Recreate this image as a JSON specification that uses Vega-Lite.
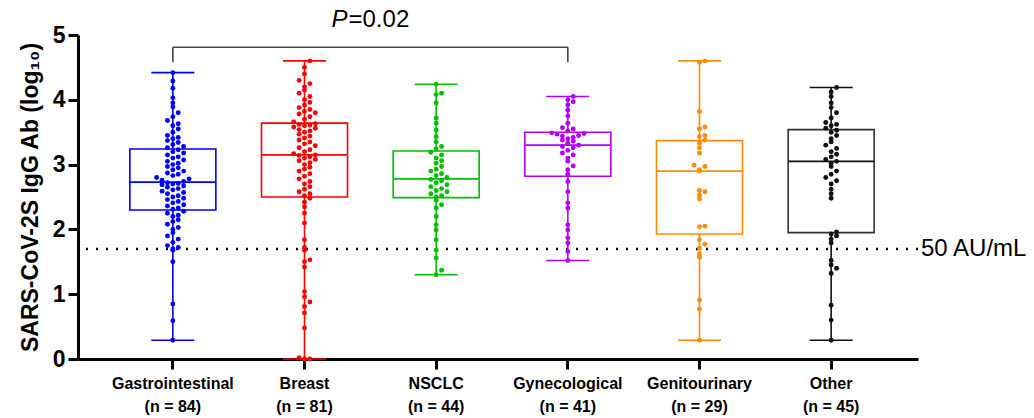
{
  "$schema": "https://vega.github.io/schema/vega-lite/v6.json",
  "width": 840,
  "height": 324,
  "autosize": {"type": "none"},
  "padding": {"left": 78, "top": 35, "right": 116, "bottom": 59},
  "background": "white",
  "config": {
    "view": {"stroke": null},
    "font": "Liberation Sans",
    "axisX": {
      "title": null,
      "domainColor": "black", "domainWidth": 3,
      "tickColor": "black", "tickWidth": 3, "tickSize": 10,
      "labelFont": "Liberation Sans", "labelFontWeight": "bold", "labelFontSize": 16, "labelColor": "black",
      "labelAngle": 0, "labelPadding": 6, "labelLineHeight": 23, "labelBaseline": "top",
      "labelExpr": "[datum.label, {'Gastrointestinal':'(n = 84)','Breast':'(n = 81)','NSCLC':'(n = 44)','Gynecological':'(n = 41)','Genitourinary':'(n = 29)','Other':'(n = 45)'}[datum.label]]",
      "grid": false
    },
    "axisY": {
      "domainColor": "black", "domainWidth": 3,
      "tickColor": "black", "tickWidth": 3, "tickSize": 10,
      "labelFont": "Liberation Sans", "labelFontWeight": "bold", "labelFontSize": 23, "labelColor": "black", "labelPadding": 3,
      "titleFont": "Liberation Sans", "titleFontWeight": "bold", "titleFontSize": 23, "titleColor": "black", "titlePadding": 10,
      "grid": false
    }
  },
  "datasets": {
    "box": [
      {"g": "Gastrointestinal", "lo": 0.29, "q1": 2.30, "med": 2.73, "q3": 3.24, "hi": 4.42},
      {"g": "Breast", "lo": 0.0, "q1": 2.50, "med": 3.15, "q3": 3.64, "hi": 4.60},
      {"g": "NSCLC", "lo": 1.30, "q1": 2.49, "med": 2.78, "q3": 3.21, "hi": 4.24},
      {"g": "Gynecological", "lo": 1.52, "q1": 2.82, "med": 3.30, "q3": 3.50, "hi": 4.05},
      {"g": "Genitourinary", "lo": 0.29, "q1": 1.93, "med": 2.90, "q3": 3.37, "hi": 4.60},
      {"g": "Other", "lo": 0.29, "q1": 1.95, "med": 3.05, "q3": 3.54, "hi": 4.19}
    ],
    "pts": [
      {"g":"Gastrointestinal","v":0.29},{"g":"Gastrointestinal","v":0.59},{"g":"Gastrointestinal","v":0.85},{"g":"Gastrointestinal","v":1.50},{"g":"Gastrointestinal","v":1.68},{"g":"Gastrointestinal","v":1.70},{"g":"Gastrointestinal","v":1.72},{"g":"Gastrointestinal","v":1.75},{"g":"Gastrointestinal","v":1.80},{"g":"Gastrointestinal","v":1.85},{"g":"Gastrointestinal","v":1.90},{"g":"Gastrointestinal","v":1.95},{"g":"Gastrointestinal","v":2.00},{"g":"Gastrointestinal","v":2.03},{"g":"Gastrointestinal","v":2.08},{"g":"Gastrointestinal","v":2.12},{"g":"Gastrointestinal","v":2.15},{"g":"Gastrointestinal","v":2.20},{"g":"Gastrointestinal","v":2.22},{"g":"Gastrointestinal","v":2.25},{"g":"Gastrointestinal","v":2.28},
      {"g":"Gastrointestinal","v":2.31},{"g":"Gastrointestinal","v":2.33},{"g":"Gastrointestinal","v":2.36},{"g":"Gastrointestinal","v":2.38},{"g":"Gastrointestinal","v":2.41},{"g":"Gastrointestinal","v":2.43},{"g":"Gastrointestinal","v":2.46},{"g":"Gastrointestinal","v":2.48},{"g":"Gastrointestinal","v":2.50},{"g":"Gastrointestinal","v":2.52},{"g":"Gastrointestinal","v":2.55},{"g":"Gastrointestinal","v":2.57},{"g":"Gastrointestinal","v":2.59},{"g":"Gastrointestinal","v":2.61},{"g":"Gastrointestinal","v":2.63},{"g":"Gastrointestinal","v":2.65},{"g":"Gastrointestinal","v":2.67},{"g":"Gastrointestinal","v":2.69},{"g":"Gastrointestinal","v":2.70},{"g":"Gastrointestinal","v":2.71},{"g":"Gastrointestinal","v":2.72},
      {"g":"Gastrointestinal","v":2.74},{"g":"Gastrointestinal","v":2.76},{"g":"Gastrointestinal","v":2.78},{"g":"Gastrointestinal","v":2.80},{"g":"Gastrointestinal","v":2.83},{"g":"Gastrointestinal","v":2.85},{"g":"Gastrointestinal","v":2.87},{"g":"Gastrointestinal","v":2.90},{"g":"Gastrointestinal","v":2.92},{"g":"Gastrointestinal","v":2.95},{"g":"Gastrointestinal","v":2.97},{"g":"Gastrointestinal","v":3.00},{"g":"Gastrointestinal","v":3.02},{"g":"Gastrointestinal","v":3.05},{"g":"Gastrointestinal","v":3.07},{"g":"Gastrointestinal","v":3.10},{"g":"Gastrointestinal","v":3.12},{"g":"Gastrointestinal","v":3.15},{"g":"Gastrointestinal","v":3.18},{"g":"Gastrointestinal","v":3.20},{"g":"Gastrointestinal","v":3.23},
      {"g":"Gastrointestinal","v":3.26},{"g":"Gastrointestinal","v":3.28},{"g":"Gastrointestinal","v":3.31},{"g":"Gastrointestinal","v":3.34},{"g":"Gastrointestinal","v":3.37},{"g":"Gastrointestinal","v":3.40},{"g":"Gastrointestinal","v":3.42},{"g":"Gastrointestinal","v":3.45},{"g":"Gastrointestinal","v":3.50},{"g":"Gastrointestinal","v":3.55},{"g":"Gastrointestinal","v":3.60},{"g":"Gastrointestinal","v":3.63},{"g":"Gastrointestinal","v":3.68},{"g":"Gastrointestinal","v":3.74},{"g":"Gastrointestinal","v":3.80},{"g":"Gastrointestinal","v":3.89},{"g":"Gastrointestinal","v":3.95},{"g":"Gastrointestinal","v":4.03},{"g":"Gastrointestinal","v":4.18},{"g":"Gastrointestinal","v":4.29},{"g":"Gastrointestinal","v":4.42},
      {"g":"Breast","v":0.0},{"g":"Breast","v":0.0},{"g":"Breast","v":0.02},{"g":"Breast","v":0.48},{"g":"Breast","v":0.71},{"g":"Breast","v":0.81},{"g":"Breast","v":0.88},{"g":"Breast","v":0.96},{"g":"Breast","v":1.04},{"g":"Breast","v":1.42},{"g":"Breast","v":1.50},{"g":"Breast","v":1.53},{"g":"Breast","v":1.68},{"g":"Breast","v":1.72},{"g":"Breast","v":1.84},{"g":"Breast","v":2.10},{"g":"Breast","v":2.25},{"g":"Breast","v":2.35},{"g":"Breast","v":2.42},{"g":"Breast","v":2.48},
      {"g":"Breast","v":2.52},{"g":"Breast","v":2.55},{"g":"Breast","v":2.58},{"g":"Breast","v":2.62},{"g":"Breast","v":2.66},{"g":"Breast","v":2.70},{"g":"Breast","v":2.74},{"g":"Breast","v":2.78},{"g":"Breast","v":2.82},{"g":"Breast","v":2.86},{"g":"Breast","v":2.90},{"g":"Breast","v":2.93},{"g":"Breast","v":2.96},{"g":"Breast","v":3.00},{"g":"Breast","v":3.03},{"g":"Breast","v":3.06},{"g":"Breast","v":3.08},{"g":"Breast","v":3.10},{"g":"Breast","v":3.12},{"g":"Breast","v":3.14},{"g":"Breast","v":3.15},
      {"g":"Breast","v":3.17},{"g":"Breast","v":3.20},{"g":"Breast","v":3.23},{"g":"Breast","v":3.26},{"g":"Breast","v":3.29},{"g":"Breast","v":3.32},{"g":"Breast","v":3.35},{"g":"Breast","v":3.38},{"g":"Breast","v":3.41},{"g":"Breast","v":3.44},{"g":"Breast","v":3.47},{"g":"Breast","v":3.50},{"g":"Breast","v":3.52},{"g":"Breast","v":3.54},{"g":"Breast","v":3.56},{"g":"Breast","v":3.58},{"g":"Breast","v":3.60},{"g":"Breast","v":3.61},{"g":"Breast","v":3.62},{"g":"Breast","v":3.63},
      {"g":"Breast","v":3.66},{"g":"Breast","v":3.70},{"g":"Breast","v":3.74},{"g":"Breast","v":3.78},{"g":"Breast","v":3.80},{"g":"Breast","v":3.82},{"g":"Breast","v":3.85},{"g":"Breast","v":3.88},{"g":"Breast","v":3.92},{"g":"Breast","v":3.96},{"g":"Breast","v":4.00},{"g":"Breast","v":4.05},{"g":"Breast","v":4.10},{"g":"Breast","v":4.15},{"g":"Breast","v":4.20},{"g":"Breast","v":4.25},{"g":"Breast","v":4.30},{"g":"Breast","v":4.40},{"g":"Breast","v":4.50},{"g":"Breast","v":4.60},
      {"g":"NSCLC","v":1.30},{"g":"NSCLC","v":1.37},{"g":"NSCLC","v":1.56},{"g":"NSCLC","v":1.68},{"g":"NSCLC","v":1.84},{"g":"NSCLC","v":1.99},{"g":"NSCLC","v":2.07},{"g":"NSCLC","v":2.20},{"g":"NSCLC","v":2.33},{"g":"NSCLC","v":2.38},{"g":"NSCLC","v":2.45},
      {"g":"NSCLC","v":2.50},{"g":"NSCLC","v":2.52},{"g":"NSCLC","v":2.55},{"g":"NSCLC","v":2.58},{"g":"NSCLC","v":2.60},{"g":"NSCLC","v":2.63},{"g":"NSCLC","v":2.66},{"g":"NSCLC","v":2.69},{"g":"NSCLC","v":2.72},{"g":"NSCLC","v":2.75},{"g":"NSCLC","v":2.77},
      {"g":"NSCLC","v":2.80},{"g":"NSCLC","v":2.83},{"g":"NSCLC","v":2.86},{"g":"NSCLC","v":2.90},{"g":"NSCLC","v":2.93},{"g":"NSCLC","v":2.97},{"g":"NSCLC","v":3.02},{"g":"NSCLC","v":3.06},{"g":"NSCLC","v":3.10},{"g":"NSCLC","v":3.15},{"g":"NSCLC","v":3.19},
      {"g":"NSCLC","v":3.24},{"g":"NSCLC","v":3.28},{"g":"NSCLC","v":3.35},{"g":"NSCLC","v":3.43},{"g":"NSCLC","v":3.53},{"g":"NSCLC","v":3.64},{"g":"NSCLC","v":3.72},{"g":"NSCLC","v":3.95},{"g":"NSCLC","v":4.08},{"g":"NSCLC","v":4.10},{"g":"NSCLC","v":4.24},
      {"g":"Gynecological","v":1.52},{"g":"Gynecological","v":1.66},{"g":"Gynecological","v":1.79},{"g":"Gynecological","v":1.87},{"g":"Gynecological","v":1.99},{"g":"Gynecological","v":2.07},{"g":"Gynecological","v":2.33},{"g":"Gynecological","v":2.41},{"g":"Gynecological","v":2.58},{"g":"Gynecological","v":2.74},
      {"g":"Gynecological","v":2.85},{"g":"Gynecological","v":2.92},{"g":"Gynecological","v":2.98},{"g":"Gynecological","v":3.05},{"g":"Gynecological","v":3.10},{"g":"Gynecological","v":3.15},{"g":"Gynecological","v":3.18},{"g":"Gynecological","v":3.22},{"g":"Gynecological","v":3.26},{"g":"Gynecological","v":3.28},{"g":"Gynecological","v":3.30},
      {"g":"Gynecological","v":3.33},{"g":"Gynecological","v":3.36},{"g":"Gynecological","v":3.38},{"g":"Gynecological","v":3.40},{"g":"Gynecological","v":3.42},{"g":"Gynecological","v":3.44},{"g":"Gynecological","v":3.45},{"g":"Gynecological","v":3.47},{"g":"Gynecological","v":3.48},{"g":"Gynecological","v":3.49},
      {"g":"Gynecological","v":3.52},{"g":"Gynecological","v":3.55},{"g":"Gynecological","v":3.57},{"g":"Gynecological","v":3.64},{"g":"Gynecological","v":3.75},{"g":"Gynecological","v":3.84},{"g":"Gynecological","v":3.92},{"g":"Gynecological","v":3.97},{"g":"Gynecological","v":4.00},{"g":"Gynecological","v":4.05},
      {"g":"Genitourinary","v":0.29},{"g":"Genitourinary","v":0.77},{"g":"Genitourinary","v":0.91},{"g":"Genitourinary","v":1.57},{"g":"Genitourinary","v":1.62},{"g":"Genitourinary","v":1.71},{"g":"Genitourinary","v":1.77},{"g":"Genitourinary","v":1.84},{"g":"Genitourinary","v":2.04},{"g":"Genitourinary","v":2.05},{"g":"Genitourinary","v":2.47},{"g":"Genitourinary","v":2.53},{"g":"Genitourinary","v":2.58},{"g":"Genitourinary","v":2.60},{"g":"Genitourinary","v":2.90},{"g":"Genitourinary","v":2.92},{"g":"Genitourinary","v":2.97},{"g":"Genitourinary","v":2.99},{"g":"Genitourinary","v":3.18},{"g":"Genitourinary","v":3.26},{"g":"Genitourinary","v":3.33},{"g":"Genitourinary","v":3.38},{"g":"Genitourinary","v":3.43},{"g":"Genitourinary","v":3.45},{"g":"Genitourinary","v":3.55},{"g":"Genitourinary","v":3.58},{"g":"Genitourinary","v":3.82},{"g":"Genitourinary","v":4.58},{"g":"Genitourinary","v":4.60},
      {"g":"Other","v":0.29},{"g":"Other","v":0.60},{"g":"Other","v":0.83},{"g":"Other","v":1.32},{"g":"Other","v":1.40},{"g":"Other","v":1.45},{"g":"Other","v":1.52},{"g":"Other","v":1.79},{"g":"Other","v":1.85},{"g":"Other","v":1.90},{"g":"Other","v":1.93},
      {"g":"Other","v":1.96},{"g":"Other","v":2.48},{"g":"Other","v":2.55},{"g":"Other","v":2.62},{"g":"Other","v":2.70},{"g":"Other","v":2.75},{"g":"Other","v":2.80},{"g":"Other","v":2.85},{"g":"Other","v":2.90},{"g":"Other","v":2.97},{"g":"Other","v":3.02},{"g":"Other","v":3.05},
      {"g":"Other","v":3.08},{"g":"Other","v":3.12},{"g":"Other","v":3.16},{"g":"Other","v":3.20},{"g":"Other","v":3.25},{"g":"Other","v":3.30},{"g":"Other","v":3.35},{"g":"Other","v":3.40},{"g":"Other","v":3.45},{"g":"Other","v":3.50},{"g":"Other","v":3.53},
      {"g":"Other","v":3.56},{"g":"Other","v":3.60},{"g":"Other","v":3.62},{"g":"Other","v":3.65},{"g":"Other","v":3.72},{"g":"Other","v":3.80},{"g":"Other","v":3.88},{"g":"Other","v":3.95},{"g":"Other","v":4.05},{"g":"Other","v":4.12},{"g":"Other","v":4.19}
    ]
  },
  "layer": [
    {
      "data": {"values": [{}]},
      "mark": {"type": "rule", "strokeDash": [2, 8], "strokeWidth": 2.5, "color": "black"},
      "encoding": {"y": {"datum": 1.699, "type": "quantitative", "scale": {"domain": [0, 5], "nice": false}, "axis": {"values": [0,1,2,3,4,5], "format": "d", "title": "SARS-CoV-2S IgG Ab (log₁₀)"}}}
    },
    {
      "data": {"name": "box"},
      "mark": {"type": "rule", "strokeWidth": 1.6},
      "encoding": {
        "x": {"field": "g", "type": "nominal", "scale": {"domain": ["Gastrointestinal","Breast","NSCLC","Gynecological","Genitourinary","Other"], "paddingInner": 0, "paddingOuter": 0.19, "align": 0.58}},
        "y": {"field": "lo", "type": "quantitative"},
        "y2": {"field": "hi"},
        "color": {"field": "g", "type": "nominal", "legend": null, "scale": {"domain": ["Gastrointestinal","Breast","NSCLC","Gynecological","Genitourinary","Other"], "range": ["#0000ff","#ff0000","#00c000","#b400ff","#ff8c00","#111111"]}}
      }
    },
    {
      "data": {"name": "box"},
      "mark": {"type": "bar", "size": 86, "fill": "white", "strokeWidth": 1.6},
      "encoding": {
        "x": {"field": "g", "type": "nominal"},
        "y": {"field": "q1", "type": "quantitative"},
        "y2": {"field": "q3"},
        "stroke": {"field": "g", "type": "nominal", "legend": null, "scale": {"domain": ["Gastrointestinal","Breast","NSCLC","Gynecological","Genitourinary","Other"], "range": ["#0000ff","#ff0000","#00c000","#b400ff","#ff8c00","#333333"]}}
      }
    },
    {
      "data": {"name": "box"},
      "mark": {"type": "tick", "size": 86, "thickness": 1.6, "opacity": 1},
      "encoding": {
        "x": {"field": "g", "type": "nominal"},
        "y": {"field": "med", "type": "quantitative"},
        "color": {"field": "g", "type": "nominal", "legend": null}
      }
    },
    {
      "data": {"name": "box"},
      "mark": {"type": "tick", "size": 43, "thickness": 1.6, "opacity": 1},
      "encoding": {
        "x": {"field": "g", "type": "nominal"},
        "y": {"field": "lo", "type": "quantitative"},
        "color": {"field": "g", "type": "nominal", "legend": null}
      }
    },
    {
      "data": {"name": "box"},
      "mark": {"type": "tick", "size": 43, "thickness": 1.6, "opacity": 1},
      "encoding": {
        "x": {"field": "g", "type": "nominal"},
        "y": {"field": "hi", "type": "quantitative"},
        "color": {"field": "g", "type": "nominal", "legend": null}
      }
    },
    {
      "data": {"name": "pts"},
      "transform": [
        {"calculate": "floor(datum.v / 0.1)", "as": "vb"},
        {"window": [{"op": "row_number", "as": "k"}], "groupby": ["g", "vb"], "sort": [{"field": "v"}]},
        {"calculate": "datum.k == 1 ? 0 : (datum.k % 2 == 0 ? datum.k / 2 : -(datum.k - 1) / 2)", "as": "off"}
      ],
      "mark": {"type": "circle", "size": 24, "opacity": 1},
      "encoding": {
        "x": {"field": "g", "type": "nominal"},
        "xOffset": {"field": "off", "type": "quantitative", "scale": {"domain": [-5, 5], "range": [38.83, 92.83]}},
        "y": {"field": "v", "type": "quantitative"},
        "color": {"field": "g", "type": "nominal", "legend": null}
      }
    },
    {
      "data": {"values": [{"a": "Gastrointestinal", "b": "Gynecological"}]},
      "mark": {"type": "rule", "strokeWidth": 1.6, "color": "#444444"},
      "encoding": {
        "x": {"field": "a", "type": "nominal"},
        "x2": {"field": "b"},
        "y": {"datum": 4.81, "type": "quantitative"}
      }
    },
    {
      "data": {"values": [{"g": "Gastrointestinal"}, {"g": "Gynecological"}]},
      "mark": {"type": "rule", "strokeWidth": 1.6, "color": "#444444"},
      "encoding": {
        "x": {"field": "g", "type": "nominal"},
        "y": {"datum": 4.58, "type": "quantitative"},
        "y2": {"datum": 4.81}
      }
    },
    {
      "data": {"values": [{"g": "Breast", "t": "P"}]},
      "mark": {"type": "text", "align": "left", "baseline": "middle", "fontSize": 24, "fontStyle": "italic", "font": "Liberation Sans", "dx": 27, "color": "black"},
      "encoding": {
        "x": {"field": "g", "type": "nominal"},
        "y": {"datum": 5.23, "type": "quantitative"},
        "text": {"field": "t"}
      }
    },
    {
      "data": {"values": [{"g": "Breast", "t": "=0.02"}]},
      "mark": {"type": "text", "align": "left", "baseline": "middle", "fontSize": 24, "font": "Liberation Sans", "dx": 44, "color": "black"},
      "encoding": {
        "x": {"field": "g", "type": "nominal"},
        "y": {"datum": 5.23, "type": "quantitative"},
        "text": {"field": "t"}
      }
    },
    {
      "data": {"values": [{"t": "50 AU/mL"}]},
      "mark": {"type": "text", "align": "left", "baseline": "middle", "fontSize": 24, "font": "Liberation Sans", "dx": 3, "color": "black"},
      "encoding": {
        "x": {"value": "width"},
        "y": {"datum": 1.699, "type": "quantitative"},
        "text": {"field": "t"}
      }
    }
  ]
}
